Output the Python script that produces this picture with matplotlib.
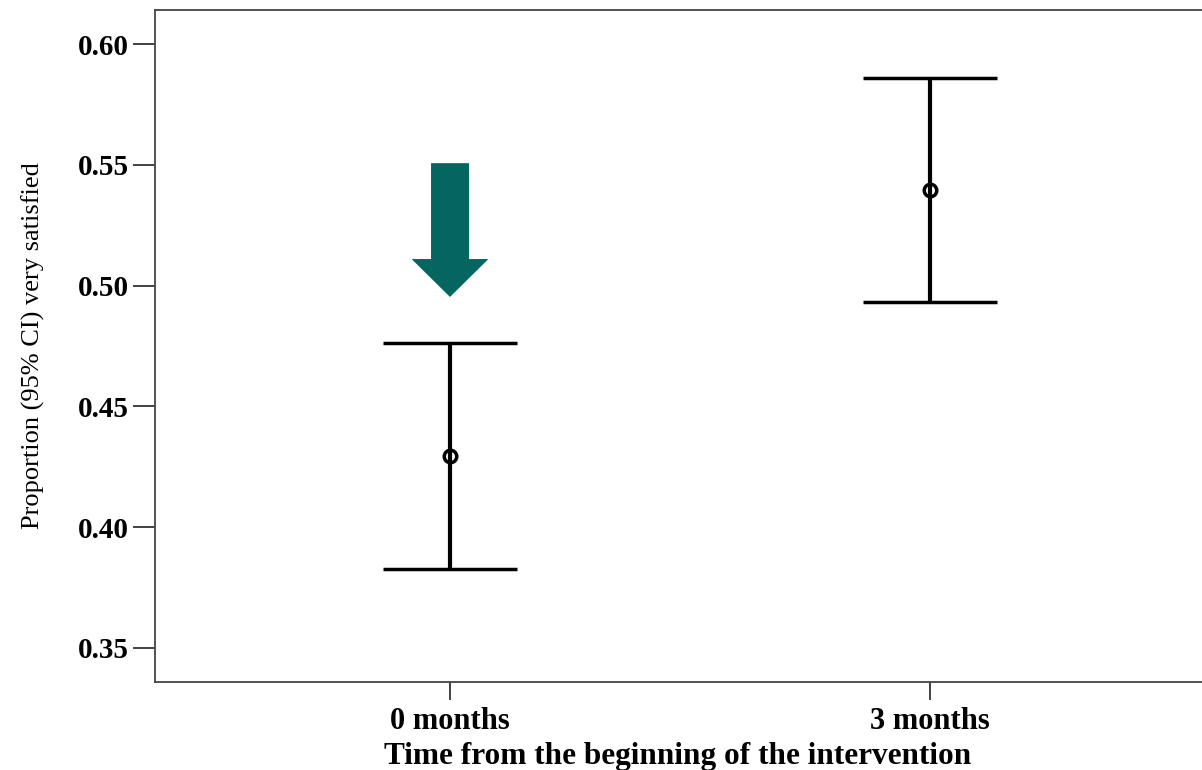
import matplotlib
matplotlib.use('Agg')
import matplotlib.pyplot as plt
from matplotlib.patches import FancyArrow

# data
categories = ['0 months', '3 months']
means = [0.4295, 0.5396]
ci_low = [0.3827, 0.4932]
ci_high = [0.4762, 0.5859]
y_ticks = [0.35, 0.40, 0.45, 0.50, 0.55, 0.60]

# arrow pointing at the baseline estimate
arrow_top = 0.5507
arrow_tip = 0.4953

plt.rcParams['font.family'] = ['Liberation Serif', 'DejaVu Serif']

fig = plt.figure(figsize=(12.02, 7.70), dpi=100)
ax = fig.add_axes([155 / 1202, 1 - 682 / 770, 1070 / 1202, 672 / 770])

x = list(range(len(categories)))
err_lo = [m - lo for m, lo in zip(means, ci_low)]
err_hi = [hi - m for m, hi in zip(means, ci_high)]
ax.errorbar(x, means, yerr=[err_lo, err_hi], fmt='o', color='black',
            ecolor='black', elinewidth=3, capsize=48, capthick=3,
            markersize=9, markerfacecolor='none', markeredgewidth=2.5)

ax.add_patch(FancyArrow(x[0], arrow_top, 0, arrow_tip - arrow_top,
                        width=0.079, head_width=0.16, head_length=0.0157,
                        length_includes_head=True, color='#05665F', lw=0))

ax.set_xlim(-0.6146, 1.6146)
ax.set_ylim(0.3359, 0.6141)
ax.set_xticks(x)
ax.set_xticklabels(categories, fontweight='bold')
ax.set_yticks(y_ticks)
ax.set_yticklabels([f'{t:.2f}' for t in y_ticks], fontweight='bold')

ax.tick_params(axis='y', length=16, width=1.3, pad=3, labelsize=21, color='#333333')
ax.tick_params(axis='x', length=13, width=1.3, pad=5, labelsize=22, color='#333333')

for side in ['left', 'bottom', 'top']:
    ax.spines[side].set_color('#444444')
    ax.spines[side].set_linewidth(1.3)
ax.spines['right'].set_visible(False)

ax.set_xlabel('Time from the beginning of the intervention', fontsize=22.5,
              fontweight='bold')
ax.xaxis.set_label_coords(0.488, -0.09)
ax.set_ylabel('Proportion (95% CI) very satisfied', fontsize=19)
ax.yaxis.set_label_coords(-0.103, 0.5)

fig.savefig('out.png', dpi=100)
